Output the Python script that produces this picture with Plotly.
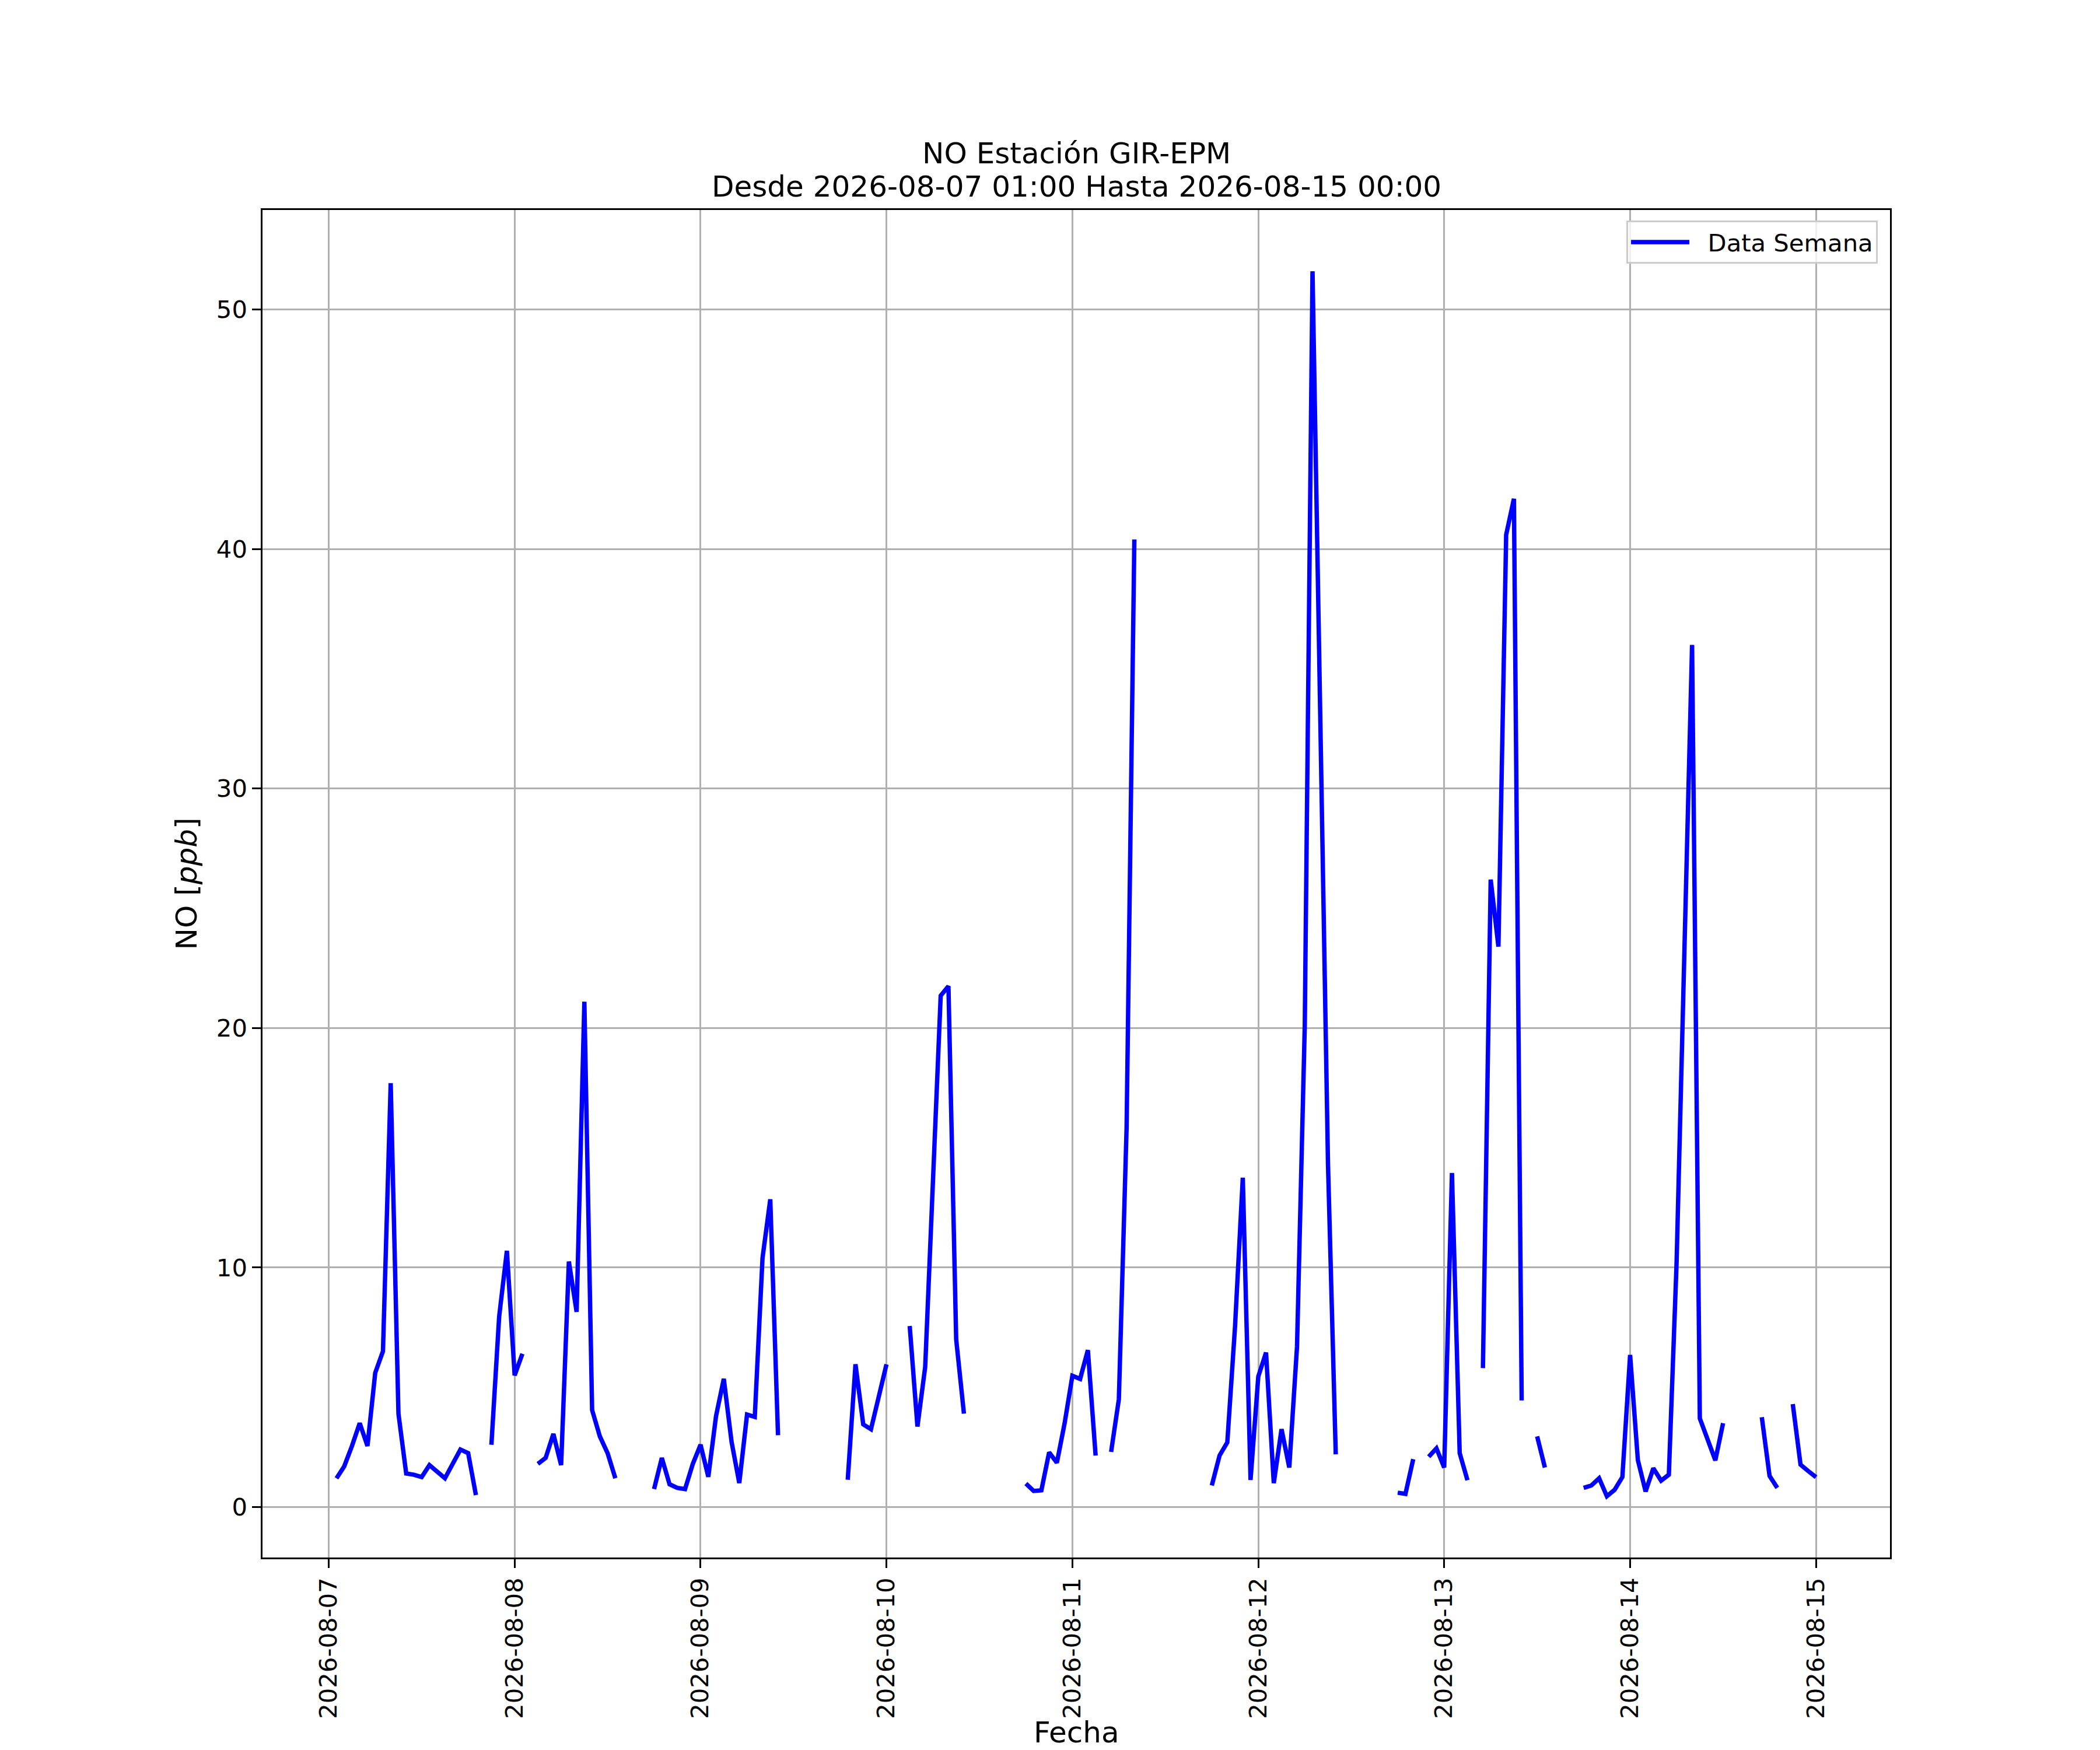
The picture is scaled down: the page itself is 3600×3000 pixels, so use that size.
import pandas as pd
import plotly.graph_objects as go

N = None
# Hourly NO values (ppb), 2026-08-07 01:00 .. 2026-08-15 00:00 ; None = missing
aug07 = [1.2, 1.7, 2.55, 3.5, 2.55, 5.6, 6.5, 17.7, 3.9, 1.4, 1.35, 1.25,
         1.75, 1.5, 1.2, 1.8, 2.4, 2.25, 0.5, N, 2.6, 7.95, 10.7]          # 01..23
aug08 = [5.5, 6.4, N, 1.8, 2.05, 3.05, 1.75, 10.25, 8.15, 21.1, 4.05, 2.95,
         2.25, 1.2, N, N, N, N, 0.75, 2.05, 0.95, 0.8, 0.75, 1.8]            # 00..23
aug09 = [2.6, 1.26, 3.8, 5.35, 2.73, 1.0, 3.86, 3.76, 10.4, 12.85, 3.0, N,
         N, N, N, N, N, N, N, 1.14, 5.96, 3.45, 3.25, 4.6]
aug10 = [5.96, N, N, 7.56, 3.36, 5.85, 14.0, 21.35, 21.75, 7.0, 3.9, N,
         N, N, N, N, N, N, 0.98, 0.67, 0.7, 2.28, 1.85, 3.5]
aug11 = [5.48, 5.35, 6.55, 2.15, N, 2.3, 4.5, 15.85, 40.4, N, N, N,
         N, N, N, N, N, N, 0.9, 2.15, 2.7, 7.55, 13.75, 1.13]
aug12 = [5.45, 6.45, 1.0, 3.25, 1.65, 6.7, 20.1, 51.6, 33.0, 14.3, 2.2, N,
         N, N, N, N, N, N, 0.6, 0.55, 2.0, N, 2.1, 2.45]
aug13 = [1.65, 13.95, 2.25, 1.12, N, 5.8, 26.2, 23.4, 40.6, 42.1, 4.45, N,
         2.95, 1.65, N, N, N, N, 0.8, 0.9, 1.2, 0.45, 0.72, 1.25]
aug14 = [6.35, 1.96, 0.65, 1.62, 1.1, 1.35, 10.2, 24.0, 36.0, 3.7, 2.8, 1.95,
         3.5, N, N, N, N, 3.75, 1.3, 0.8, N, 4.3, 1.77, 1.5]
aug15 = [1.25]                                                              # 00

values = aug07 + aug08 + aug09 + aug10 + aug11 + aug12 + aug13 + aug14 + aug15
fechas = pd.date_range("2026-08-07 01:00", "2026-08-15 00:00", freq="h")

y_ticks = [0, 10, 20, 30, 40, 50]
x_ticks = pd.date_range("2026-08-07", "2026-08-15", freq="D")
x_ticklabels = [d.strftime("%Y-%m-%d") for d in x_ticks]

title_line1 = "NO Estación GIR-EPM"
title_line2 = "Desde 2026-08-07 01:00 Hasta 2026-08-15 00:00"
x_label = "Fecha"
y_label = "NO [<i>ppb</i>]"

# axis limits with 5% margins like matplotlib
t0, t1 = fechas[0], fechas[-1]
span = t1 - t0
x_range = [t0 - span * 0.05, t1 + span * 0.05]
vals = [v for v in values if v is not None]
vmin, vmax = min(vals), max(vals)
y_range = [vmin - 0.05 * (vmax - vmin), vmax + 0.05 * (vmax - vmin)]

FONT = "DejaVu Sans"
TICK = 41.7
BIG = 50

fig = go.Figure()
fig.add_trace(go.Scatter(
    x=fechas, y=values, mode="lines", name="  Data Semana",
    line=dict(color="#0000ff", width=7.5), connectgaps=False,
))

axis_common = dict(
    showgrid=True, gridcolor="#b0b0b0", gridwidth=3.3,
    showline=True, linecolor="black", linewidth=3.3, mirror=True,
    ticks="outside", ticklen=14.6, tickwidth=3.3, tickcolor="black",
    zeroline=False, automargin=False,
    tickfont=dict(family=FONT, size=TICK, color="black"),
)

fig.update_layout(
    width=3600, height=3000,
    paper_bgcolor="white", plot_bgcolor="white",
    margin=dict(l=450, r=360, t=360, b=330),
    font=dict(family=FONT, color="black"),
    xaxis=dict(axis_common, range=x_range, tickvals=x_ticks, ticktext=x_ticklabels,
               tickangle=-90),
    yaxis=dict(axis_common, range=y_range, tickvals=y_ticks,
               ticktext=[str(v) for v in y_ticks],
               title=dict(text=y_label, font=dict(family=FONT, size=BIG), standoff=18)),
    showlegend=True,
    legend=dict(x=0.9925, y=0.992, xanchor="right", yanchor="top",
                bgcolor="rgba(255,255,255,0.8)", bordercolor="#cccccc", borderwidth=3,
                font=dict(family=FONT, size=TICK, color="black"),
                itemwidth=100),
)

for txt, yp in [(title_line1, 1.0418), (title_line2, 1.0175)]:
    fig.add_annotation(text=txt, xref="paper", yref="paper", x=0.5, y=yp,
                       xanchor="center", yanchor="middle", showarrow=False,
                       font=dict(family=FONT, size=BIG, color="black"))

fig.add_annotation(text=x_label, xref="paper", yref="paper", x=0.5, y=-0.1298,
                   xanchor="center", yanchor="middle", showarrow=False, borderpad=0,
                   font=dict(family=FONT, size=BIG, color="black"))

fig.write_html("out.html", config={"displayModeBar": False},
               post_script="document.body.style.margin='0px';")
